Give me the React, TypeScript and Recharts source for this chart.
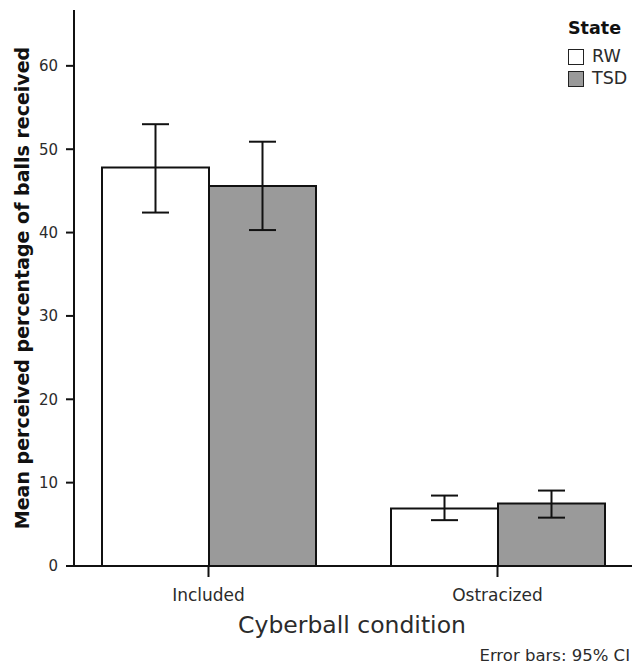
import { Bar, BarChart, ErrorBar, XAxis, YAxis } from "recharts";

const categories = ["Included", "Ostracized"];
const rwMeans = [47.8, 6.9];
const rwLow = [42.4, 5.5];
const rwHigh = [53.0, 8.45];
const tsdMeans = [45.6, 7.5];
const tsdLow = [40.3, 5.8];
const tsdHigh = [50.9, 9.05];
const yTicks = [0, 10, 20, 30, 40, 50, 60];

const data = categories.map((name, i) => ({
  name,
  rw: rwMeans[i],
  rwErr: [rwMeans[i] - rwLow[i], rwHigh[i] - rwMeans[i]],
  tsd: tsdMeans[i],
  tsdErr: [tsdMeans[i] - tsdLow[i], tsdHigh[i] - tsdMeans[i]],
}));

const FONT = "'DejaVu Sans', Verdana, sans-serif";
const TEXT = "#2b2b2b";

function YTitle(props: any) {
  const { viewBox } = props;
  const cx = 22;
  const cy = viewBox.y + viewBox.height / 2;
  return (
    <text
      x={cx}
      y={cy}
      transform={`rotate(-90 ${cx} ${cy})`}
      textAnchor="middle"
      dominantBaseline="central"
      fontFamily={FONT}
      fontWeight="bold"
      fontSize={19}
      fill="#111"
    >
      Mean perceived percentage of balls received
    </text>
  );
}

function XTitle(props: any) {
  const { viewBox } = props;
  return (
    <g>
      <text
        x={352}
        y={viewBox.y + 67}
        textAnchor="middle"
        fontFamily={FONT}
        fontSize={23.5}
        fill={TEXT}
      >
        Cyberball condition
      </text>
      <text
        x={630}
        y={viewBox.y + 95}
        textAnchor="end"
        fontFamily={FONT}
        fontSize={16.5}
        fill={TEXT}
      >
        Error bars: 95% CI
      </text>
    </g>
  );
}

function LegendBox() {
  const row = { display: "flex", alignItems: "center", height: 22 };
  const box = (fill: string) => ({
    width: 14,
    height: 14,
    border: "1.5px solid #222",
    background: fill,
    marginRight: 8,
  });
  return (
    <div
      style={{
        position: "absolute",
        left: 568,
        top: 20,
        fontFamily: FONT,
        fontSize: 17.5,
        color: TEXT,
        lineHeight: 1,
      }}
    >
      <div style={{ fontWeight: "bold", color: "#111", marginBottom: 8 }}>
        State
      </div>
      <div style={row}>
        <div style={box("#fff")} />
        RW
      </div>
      <div style={row}>
        <div style={box("#9a9a9a")} />
        TSD
      </div>
    </div>
  );
}

export default function App() {
  return (
    <div
      style={{
        position: "absolute",
        left: 0,
        top: 0,
        width: 632,
        height: 665,
        background: "#fff",
      }}
    >
      <BarChart
        width={632}
        height={665}
        data={data}
        margin={{ top: 10, right: 0, left: 14, bottom: 0 }}
        barGap={0}
        barSize={107}
      >
        <XAxis
          dataKey="name"
          height={99}
          padding={{ left: -10, right: -10 }}
          stroke="#111"
          strokeWidth={2}
          tickSize={11}
          tickMargin={12}
          tick={{ fontFamily: FONT, fontSize: 17, fill: TEXT }}
          label={<XTitle />}
        />
        <YAxis
          width={60}
          domain={[0, 66.7]}
          ticks={yTicks}
          allowDataOverflow
          stroke="#111"
          strokeWidth={2}
          tickSize={8}
          tickMargin={8}
          tick={{ fontFamily: FONT, fontSize: 15, fill: TEXT }}
          label={<YTitle />}
        />
        <Bar
          dataKey="rw"
          fill="#ffffff"
          stroke="#111"
          strokeWidth={2}
          isAnimationActive={false}
        >
          <ErrorBar
            dataKey="rwErr"
            width={13.5}
            stroke="#111"
            strokeWidth={2}
            direction="y"
          />
        </Bar>
        <Bar
          dataKey="tsd"
          fill="#9a9a9a"
          stroke="#111"
          strokeWidth={2}
          isAnimationActive={false}
        >
          <ErrorBar
            dataKey="tsdErr"
            width={13.5}
            stroke="#111"
            strokeWidth={2}
            direction="y"
          />
        </Bar>
      </BarChart>
      <LegendBox />
    </div>
  );
}
